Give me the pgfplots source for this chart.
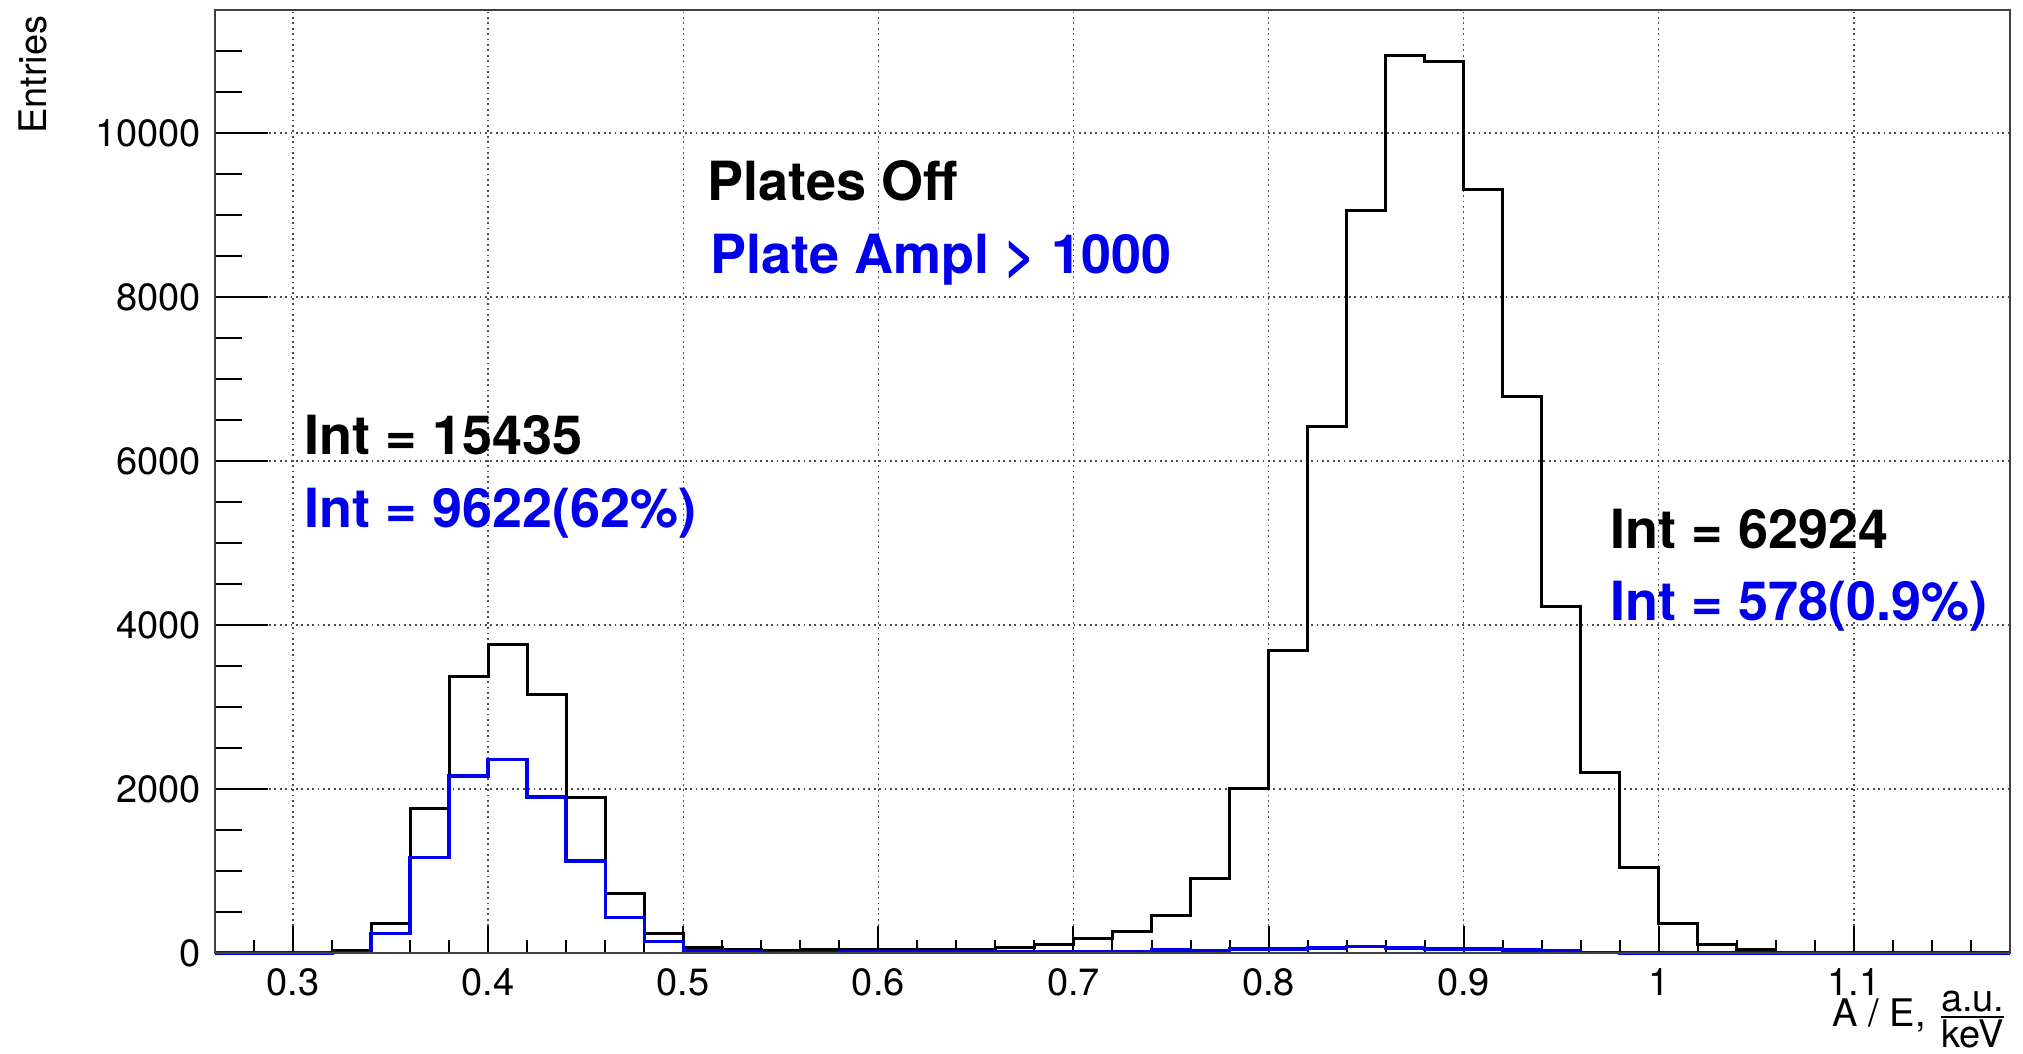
\documentclass[border=0pt]{standalone}
\usepackage{fontspec}
\setmainfont{TeX Gyre Heros}
\usepackage{pgfplots}
\pgfplotsset{compat=1.18}
\usepackage{pgfplotstable}

\definecolor{rootblue}{RGB}{0,0,235}

% left bin edge, entries (last row = right edge of last bin)
\pgfplotstableread{
x y
0.26 0
0.28 0
0.30 0
0.32 28
0.34 361
0.36 1765
0.38 3375
0.40 3765
0.42 3150
0.44 1900
0.46 730
0.48 232
0.50 62
0.52 38
0.54 36
0.56 42
0.58 42
0.60 44
0.62 46
0.64 48
0.66 62
0.68 108
0.70 172
0.72 265
0.74 452
0.76 912
0.78 2010
0.80 3684
0.82 6420
0.84 9055
0.86 10950
0.88 10870
0.90 9310
0.92 6790
0.94 4229
0.96 2204
0.98 1043
1.00 365
1.02 103
1.04 42
1.06 5
1.08 0
1.10 0
1.12 0
1.14 0
1.16 0
1.18 0
}\blackdata

\pgfplotstableread{
x y
0.26 0
0.28 0
0.30 0
0.32 5
0.34 240
0.36 1168
0.38 2158
0.40 2361
0.42 1903
0.44 1124
0.46 430
0.48 138
0.50 28
0.52 10
0.54 8
0.56 8
0.58 10
0.60 12
0.62 20
0.64 12
0.66 12
0.68 14
0.70 16
0.72 16
0.74 36
0.76 24
0.78 48
0.80 48
0.82 60
0.84 76
0.86 60
0.88 48
0.90 48
0.92 36
0.94 24
0.96 4
0.98 2
1.00 0
1.02 0
1.04 0
1.06 0
1.08 0
1.10 0
1.12 0
1.14 0
1.16 0
1.18 0
}\bluedata

\begin{document}
\begin{tikzpicture}
\useasboundingbox (-53.75pt,-25pt) rectangle (452pt,238.25pt);
\begin{axis}[
  scale only axis,
  width=448.75pt, height=235.75pt,
  xmin=0.26, xmax=1.18,
  ymin=0, ymax=11500,
  axis line style={black!75, line width=0.5pt},
  tick align=inside,
  tick pos=left,
  xtick={0.3,0.4,0.5,0.6,0.7,0.8,0.9,1.0,1.1},
  xticklabels={0.3,0.4,0.5,0.6,0.7,0.8,0.9,1,1.1},
  minor xtick={0.26,0.28,0.30,0.32,0.34,0.36,0.38,0.40,0.42,0.44,0.46,0.48,0.50,0.52,0.54,0.56,0.58,0.60,0.62,0.64,0.66,0.68,0.70,0.72,0.74,0.76,0.78,0.80,0.82,0.84,0.86,0.88,0.90,0.92,0.94,0.96,0.98,1.00,1.02,1.04,1.06,1.08,1.10,1.12,1.14,1.16},
  ytick={0,2000,4000,6000,8000,10000},
  yticklabels=\empty,
  major tick length=6.8pt,
  minor tick length=3.3pt,
  tick style={black, line width=0.5pt},
  xmajorgrids, ymajorgrids,
  major grid style={black!70, line width=0.35pt, dash pattern=on 0.45pt off 0.9pt},
  ticklabel style={font=\fontsize{9.5}{11}\selectfont},
  xticklabel style={yshift=-0.3pt},
  clip=false,
]
\addplot[black, line width=0.75pt, const plot mark left] table[x=x,y=y] {\blackdata};
\addplot[rootblue, line width=0.85pt, const plot mark left] table[x=x,y=y] {\bluedata};

\node[anchor=base west, inner sep=0pt, font=\bfseries\fontsize{13.5}{16}\selectfont, black] at (axis cs:0.512,9177) {Plates Off};
\node[anchor=base west, inner sep=0pt, font=\bfseries\fontsize{13.5}{16}\selectfont, text=rootblue] at (axis cs:0.5137,8286) {Plate Ampl > 1000};
\node[anchor=base west, inner sep=0pt, font=\bfseries\fontsize{13.5}{16}\selectfont, black] at (axis cs:0.3056,6079) {Int = 15435};
\node[anchor=base west, inner sep=0pt, font=\bfseries\fontsize{13.5}{16}\selectfont, text=rootblue] at (axis cs:0.3056,5189) {Int = 9622(62\%)};
\node[anchor=base west, inner sep=0pt, font=\bfseries\fontsize{13.5}{16}\selectfont, black] at (axis cs:0.975,4933) {Int = 62924};
\node[anchor=base west, inner sep=0pt, font=\bfseries\fontsize{13.5}{16}\selectfont, text=rootblue] at (axis cs:0.975,4055) {Int = 578(0.9\%)};
\end{axis}
\begin{axis}[
  scale only axis,
  width=448.75pt, height=235.75pt,
  xmin=0.26, xmax=1.18,
  ymin=0, ymax=11500,
  axis line style={black!75, line width=0.5pt},
  tick align=inside,
  tick pos=left,
  xtick=\empty,
  ytick={0,2000,4000,6000,8000,10000},
  yticklabels={0,2000,4000,6000,8000,10000},
  minor ytick={500,1000,1500,2500,3000,3500,4500,5000,5500,6500,7000,7500,8500,9000,9500,10500,11000},
  major tick length=13.2pt,
  minor tick length=6.7pt,
  tick style={black, line width=0.5pt},
  ticklabel style={font=\fontsize{9.5}{11}\selectfont},
]
\end{axis}
\node[anchor=north east, inner sep=0pt, font=\fontsize{9.5}{11}\selectfont] at ([yshift=-9.3pt]current axis.south east) {A / E, $\frac{\mbox{a.u.}}{\mbox{keV}}$};
\node[anchor=east, rotate=90, inner sep=0pt, font=\fontsize{9.5}{11}\selectfont] at ([xshift=-45.6pt,yshift=-1.2pt]current axis.north west) {Entries};
\end{tikzpicture}
\end{document}
